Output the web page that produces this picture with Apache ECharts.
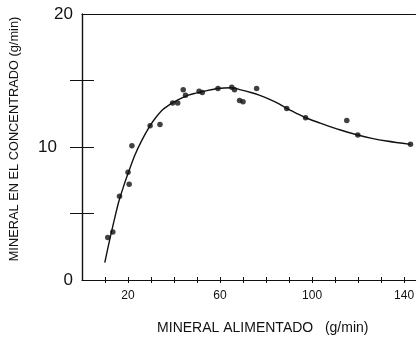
<!DOCTYPE html>
<html>
<head>
<meta charset="utf-8">
<script src="https://cdn.jsdelivr.net/npm/echarts@6/dist/echarts.min.js"></script>
<style>
  html, body { margin: 0; padding: 0; background: #fff; }
  #chart { width: 417px; height: 340px; }
</style>
</head>
<body>
<div id="chart"></div>
<script>
// puntos medidos
var pointsX = [11.2, 13.4, 16.3, 20.0, 20.5, 21.7, 29.6, 33.9, 39.4, 41.6, 44.0, 45.0, 50.9, 52.3, 59.1, 65.1, 66.3, 68.5, 70.0, 75.9, 89.0, 97.2, 115.1, 119.9, 142.8];
var pointsY = [3.2, 3.6, 6.3, 8.1, 7.2, 10.1, 11.6, 11.7, 13.3, 13.3, 14.3, 13.9, 14.2, 14.1, 14.4, 14.5, 14.3, 13.5, 13.4, 14.4, 12.9, 12.2, 12.0, 10.9, 10.2];
// curva ajustada
var curveX = [9.9, 12, 14, 16, 18, 20, 23, 26, 29.6, 32, 34.7, 37, 39.7, 43, 46.2, 49.5, 53.3, 59.1, 65, 69, 73.4, 77, 81.3, 85, 89, 93, 97.2, 103.6, 112, 119.9, 126, 132.4, 142.8];
var curveY = [1.3, 3.0, 4.5, 5.9, 7.0, 8.0, 9.4, 10.5, 11.6, 12.2, 12.75, 13.05, 13.35, 13.65, 13.9, 14.05, 14.2, 14.4, 14.45, 14.3, 14.1, 13.9, 13.6, 13.3, 12.9, 12.55, 12.2, 11.8, 11.3, 10.9, 10.65, 10.45, 10.2];
var xTicks = [10, 20, 30, 40, 50, 60, 70, 80, 90, 100, 110, 120, 130, 140];
var xLabels = [20, 60, 100, 140];
var yTicks = [5, 10, 15];
var yLabels = [0, 10, 20];

(function () {
  var myChart = echarts.init(document.getElementById("chart"));
  var font = "Liberation Sans, Arial, sans-serif";
  var ink = "#111";

  var points = pointsX.map(function (x, i) { return [x, pointsY[i]]; });
  var curve = curveX.map(function (x, i) { return [x, curveY[i]]; });

  var option = {
    animation: false,
    grid: { left: 80, right: 1, top: 14, bottom: 54 },
    xAxis: [
      {
        type: "value", min: 0, max: 145, position: "bottom",
        splitLine: { show: false },
        axisLine: { lineStyle: { color: ink, width: 1.2 } },
        axisTick: { customValues: xTicks, length: 3, lineStyle: { color: ink } },
        axisLabel: {
          customValues: xLabels, margin: 10, color: ink,
          fontFamily: font, fontSize: 12
        },
        name: "MINERAL ALIMENTADO   (g/min)",
        nameLocation: "middle", nameGap: 41,
        nameTextStyle: { color: ink, fontFamily: font, fontSize: 14, padding: [0, 0, 0, 28] }
      },
      {
        type: "value", min: 0, max: 145, position: "bottom",
        splitLine: { show: false },
        axisLine: { show: false },
        axisTick: { inside: true, customValues: xTicks, length: 3, lineStyle: { color: ink } },
        axisLabel: { show: false }
      },
      {
        type: "value", min: 0, max: 145, position: "top",
        splitLine: { show: false },
        axisLine: { lineStyle: { color: ink, width: 1.2 } },
        axisTick: { show: false },
        axisLabel: { show: false }
      }
    ],
    yAxis: [
      {
        type: "value", min: 0, max: 20, position: "left",
        splitLine: { show: false },
        axisLine: { lineStyle: { color: ink, width: 1.4 } },
        axisTick: { customValues: yTicks, length: 12, lineStyle: { color: ink } },
        axisLabel: {
          customValues: yLabels, margin: 9, color: ink,
          fontFamily: font, fontSize: 17,
          formatter: function (v) { return v === 10 ? "{p|10}" : String(v); },
          rich: { p: { fontFamily: font, fontSize: 17, color: ink, padding: [0, 16, 0, 0] } }
        },
        name: "MINERAL EN EL CONCENTRADO (g/min)",
        nameLocation: "middle", nameGap: 61,
        nameTextStyle: { color: ink, fontFamily: font, fontSize: 12.8, padding: [0, 0, 0, 16] }
      },
      {
        type: "value", min: 0, max: 20, position: "left",
        splitLine: { show: false },
        axisLine: { show: false },
        axisTick: { inside: true, customValues: yTicks, length: 12, lineStyle: { color: ink } },
        axisLabel: { show: false }
      }
    ],
    series: [
      {
        name: "curva",
        type: "line",
        smooth: 0.3,
        showSymbol: false,
        lineStyle: { color: ink, width: 1.4 },
        data: curve
      },
      {
        name: "datos",
        type: "scatter",
        symbol: "circle",
        symbolSize: 5.5,
        itemStyle: { color: ink },
        data: points
      }
    ]
  };
  myChart.setOption(option);
  window.addEventListener("resize", function () {
    myChart.resize();
  });
})();
</script>
</body>
</html>
